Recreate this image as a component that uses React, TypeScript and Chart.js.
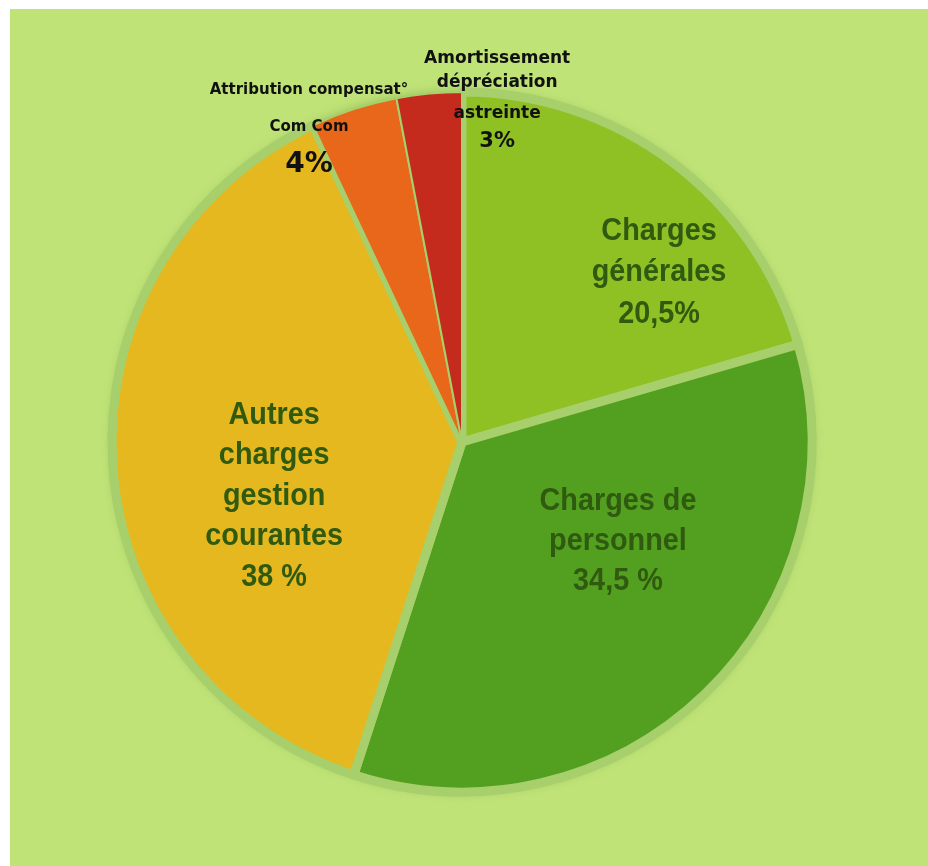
import React, { useEffect, useRef } from "react";
import { Chart, registerables } from "chart.js";

Chart.register(...registerables);

// ---- data ----
const categories = [
  "Charges générales",
  "Charges de personnel",
  "Autres charges gestion courantes",
  "Attribution compensat° Com Com",
  "Amortissement dépréciation astreinte",
];
const values = [20.5, 34.5, 38, 4, 3];
const percentLabels = ["20,5%", "34,5 %", "38 %", "4%", "3%"];
const labelLines = [
  ["Charges", "générales"],
  ["Charges de", "personnel"],
  ["Autres", "charges", "gestion", "courantes"],
  ["Attribution compensat°", "Com Com"],
  ["Amortissement", "dépréciation", "astreinte"],
];
const sliceColors = ["#8fc125", "#53a021", "#e5b81f", "#e8671a", "#c42b1d"];

// ---- styles ----
const BG = "#c0e378";
const GAP = "#a7cf6b";
const BIG = 'bold 31px "Liberation Sans", Arial, sans-serif';
const SMALL15 = 'bold 15px "DejaVu Sans", sans-serif';
const SMALL17 = 'bold 17px "DejaVu Sans", sans-serif';
const TXT = "#2f5a10";
const LABEL_LAYOUT = [
  { angle: 48.9, dist: 0.747, color: TXT, sx: 0.93, fonts: [BIG, BIG, BIG], dy: [-39, 2, 44] },
  { angle: 122.1, dist: 0.526, color: TXT, sx: 0.93, fonts: [BIG, BIG, BIG], dy: [-38, 2, 42] },
  { angle: 254.5, dist: 0.557, color: TXT, sx: 0.93, fonts: [BIG, BIG, BIG, BIG, BIG], dy: [-79, -39, 2, 42, 83] },
  {
    angle: 334.3, dist: 1.008, color: "#111", sx: 1,
    fonts: [SMALL15, SMALL15, 'bold 28px "DejaVu Sans", sans-serif'],
    dy: [-34, 3, 41],
  },
  {
    angle: 5.8, dist: 0.994, color: "#111", sx: 1,
    fonts: [SMALL17, SMALL17, SMALL17, 'bold 21px "DejaVu Sans", sans-serif'],
    dy: [-37, -13, 18, 46],
  },
];

const shadowPlugin = {
  id: "pieShadow",
  beforeDatasetsDraw(chart: any) {
    const meta = chart.getDatasetMeta(0);
    const arc: any = meta.data[0];
    if (!arc) return;
    const p = arc.getProps(["x", "y", "outerRadius"], true);
    const ctx = chart.ctx;
    ctx.save();
    ctx.shadowColor = "rgba(120,170,70,0.6)";
    ctx.shadowBlur = 10;
    ctx.fillStyle = GAP;
    ctx.beginPath();
    ctx.arc(p.x, p.y, p.outerRadius + 1, 0, Math.PI * 2);
    ctx.fill();
    ctx.restore();
  },
};

const labelPlugin = {
  id: "sliceLabels",
  afterDatasetsDraw(chart: any) {
    const ctx = chart.ctx;
    const meta = chart.getDatasetMeta(0);
    meta.data.forEach((arc: any, i: number) => {
      const lay = LABEL_LAYOUT[i];
      const p = arc.getProps(["x", "y", "outerRadius"], true);
      const a = (lay.angle * Math.PI) / 180;
      const ax = p.x + Math.sin(a) * lay.dist * p.outerRadius;
      const ay = p.y - Math.cos(a) * lay.dist * p.outerRadius;
      const lines = [...labelLines[i], percentLabels[i]];
      lines.forEach((t, j) => {
        ctx.save();
        ctx.textAlign = "center";
        ctx.textBaseline = "middle";
        ctx.fillStyle = lay.color;
        ctx.font = lay.fonts[j];
        ctx.translate(ax, ay + lay.dy[j]);
        ctx.scale(lay.sx, 1);
        ctx.fillText(t, 0, 0);
        ctx.restore();
      });
    });
  },
};

export default function App() {
  const ref = useRef<HTMLCanvasElement>(null);
  useEffect(() => {
    if (!ref.current) return;
    const chart = new Chart(ref.current, {
      type: "pie",
      data: {
        labels: categories,
        datasets: [
          {
            data: values,
            backgroundColor: sliceColors,
            borderColor: GAP,
            borderWidth: [9, 9, 9, 2, 2],
            borderJoinStyle: "round",
            radius: 350,
          } as any,
        ],
      },
      options: {
        animation: false,
        responsive: false,
        layout: { padding: { left: 0, right: 14, top: 9, bottom: 0 } },
        plugins: { legend: { display: false }, tooltip: { enabled: false } },
      },
      plugins: [shadowPlugin, labelPlugin],
    });
    return () => chart.destroy();
  }, []);
  return (
    <div style={{ position: "fixed", left: 10, top: 9, width: 918, height: 857, background: BG }}>
      <canvas ref={ref} width={918} height={857} style={{ width: 918, height: 857, display: "block" }} />
    </div>
  );
}
